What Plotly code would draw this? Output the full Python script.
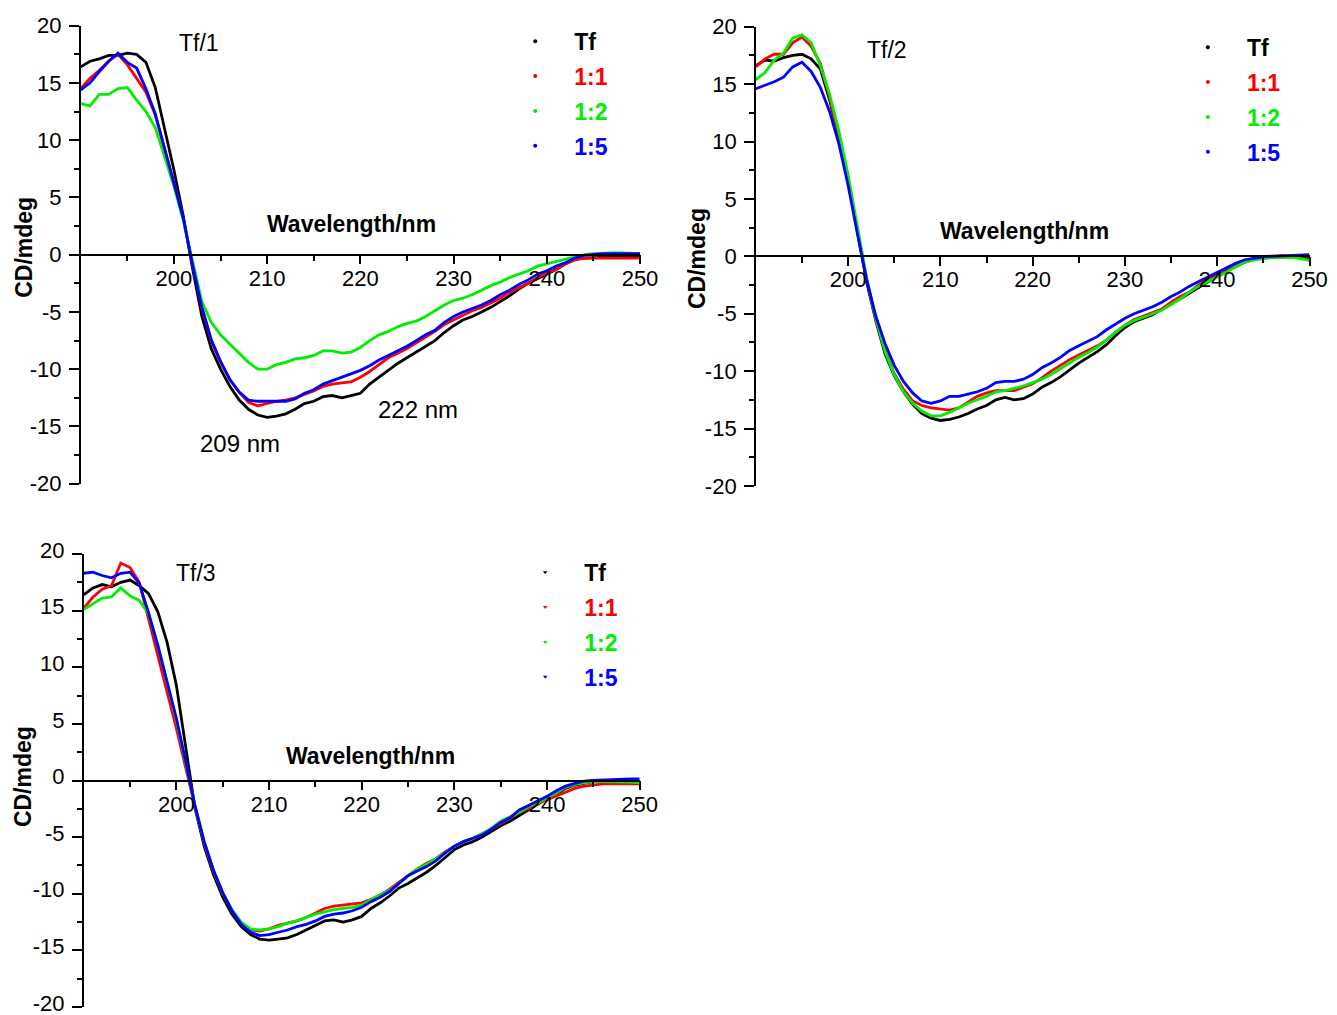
import plotly.graph_objects as go

# ---------------- data ----------------
wavelength = list(range(190, 251))

p1_tf = [16.4, 16.9, 17.1, 17.4, 17.4, 17.6, 17.5, 16.8, 14.6, 11.0,
         7.4, 3.4, -1.2, -5.4, -8.2, -10.0, -11.5, -12.7, -13.5, -14.0,
         -14.2, -14.1, -13.9, -13.5, -13.0, -12.8, -12.4, -12.3, -12.5, -12.3,
         -12.1, -11.3, -10.7, -10.1, -9.5, -9.0, -8.5, -8.0, -7.5, -6.8,
         -6.2, -5.7, -5.4, -5.0, -4.6, -4.1, -3.6, -3.0, -2.5, -2.1,
         -1.7, -1.3, -0.8, -0.4, -0.3, -0.25, -0.2, -0.2, -0.2, -0.2, -0.2]
p1_11 = [14.5, 15.4, 16.1, 16.9, 17.5, 16.6, 15.4, 14.2, 12.2, 9.3,
         6.3, 3.2, -0.9, -4.6, -7.5, -9.4, -10.9, -12.0, -12.9, -13.2,
         -13.0, -12.8, -12.7, -12.5, -12.2, -11.9, -11.5, -11.3, -11.2, -11.1,
         -10.7, -10.2, -9.6, -9.0, -8.6, -8.2, -7.7, -7.2, -6.7, -6.1,
         -5.7, -5.3, -4.9, -4.6, -4.2, -3.8, -3.3, -2.9, -2.5, -2.0,
         -1.6, -1.3, -0.8, -0.45, -0.3, -0.3, -0.3, -0.3, -0.3, -0.3, -0.3]
p1_12 = [13.2, 13.0, 14.0, 14.0, 14.5, 14.6, 13.5, 12.5, 11.1, 8.6,
         6.0, 3.0, -0.7, -4.1, -5.9, -7.0, -7.8, -8.6, -9.4, -10.0,
         -10.0, -9.6, -9.4, -9.1, -9.0, -8.8, -8.4, -8.4, -8.6, -8.5,
         -8.1, -7.5, -7.0, -6.7, -6.3, -6.0, -5.8, -5.4, -4.9, -4.4,
         -4.0, -3.8, -3.5, -3.1, -2.7, -2.4, -2.0, -1.7, -1.4, -1.0,
         -0.8, -0.6, -0.4, -0.15, 0.0, 0.1, 0.15, 0.15, 0.15, 0.1, 0.1]
p1_15 = [14.4, 15.0, 16.0, 16.9, 17.6, 16.8, 16.3, 14.5, 12.3, 9.3,
         6.3, 3.2, -0.9, -4.6, -7.4, -9.3, -10.9, -12.0, -12.7, -12.8,
         -12.8, -12.8, -12.8, -12.6, -12.1, -11.8, -11.3, -11.0, -10.7, -10.4,
         -10.1, -9.7, -9.2, -8.8, -8.4, -8.0, -7.5, -7.0, -6.6, -5.9,
         -5.4, -5.0, -4.7, -4.4, -4.0, -3.5, -3.1, -2.6, -2.2, -1.7,
         -1.4, -1.0, -0.7, -0.3, -0.05, 0.05, 0.1, 0.1, 0.1, 0.1, 0.1]

p2_tf = [16.6, 17.1, 17.0, 17.3, 17.5, 17.6, 17.2, 16.3, 13.6, 10.4,
         6.6, 2.2, -2.2, -5.6, -8.5, -10.4, -11.8, -12.9, -13.7, -14.1,
         -14.3, -14.2, -14.0, -13.7, -13.3, -13.0, -12.5, -12.3, -12.5, -12.4,
         -12.0, -11.4, -11.0, -10.5, -9.9, -9.3, -8.8, -8.3, -7.7, -6.9,
         -6.2, -5.7, -5.4, -5.1, -4.6, -4.1, -3.7, -3.2, -2.7, -2.2,
         -1.7, -1.25, -0.9, -0.5, -0.25, -0.1, -0.05, -0.05, -0.05, -0.1, -0.2]
p2_11 = [16.5, 17.2, 17.6, 17.6, 18.6, 19.1, 18.3, 16.8, 13.8, 10.4,
         6.6, 2.4, -2.0, -5.4, -8.2, -10.2, -11.6, -12.6, -13.0, -13.2,
         -13.3, -13.4, -13.2, -12.7, -12.2, -11.9, -11.7, -11.7, -11.7, -11.4,
         -11.1, -10.6, -10.0, -9.5, -9.0, -8.6, -8.2, -7.8, -7.3, -6.6,
         -6.0, -5.5, -5.2, -4.9, -4.6, -4.0, -3.5, -3.1, -2.5, -2.0,
         -1.6, -1.3, -0.8, -0.45, -0.15, 0.0, 0.05, 0.05, 0.05, 0.05, 0.0]
p2_12 = [15.4, 16.0, 17.1, 17.7, 19.0, 19.3, 18.6, 16.6, 14.1, 10.9,
         7.1, 2.8, -1.8, -5.4, -8.3, -10.3, -11.8, -12.8, -13.5, -13.9,
         -13.9, -13.6, -13.2, -12.8, -12.5, -12.2, -11.8, -11.7, -11.5, -11.3,
         -11.0, -10.7, -10.3, -9.8, -9.3, -8.8, -8.4, -7.9, -7.3, -6.6,
         -6.0, -5.6, -5.3, -5.0, -4.7, -4.2, -3.7, -3.1, -2.6, -2.2,
         -1.8, -1.4, -0.9, -0.5, -0.3, -0.2, -0.1, -0.1, -0.1, -0.2, -0.35]
p2_15 = [14.6, 14.9, 15.2, 15.6, 16.5, 16.9, 16.1, 14.7, 12.6, 9.8,
         6.2, 2.0, -2.0, -5.2, -7.6, -9.5, -10.9, -11.9, -12.6, -12.8,
         -12.6, -12.2, -12.2, -12.0, -11.8, -11.5, -11.0, -10.9, -10.9, -10.7,
         -10.3, -9.7, -9.3, -8.8, -8.2, -7.8, -7.4, -7.0, -6.4, -5.9,
         -5.4, -5.0, -4.7, -4.4, -4.0, -3.5, -3.1, -2.6, -2.2, -1.8,
         -1.35, -0.95, -0.6, -0.3, -0.15, -0.05, 0.0, 0.05, 0.1, 0.15, 0.15]

p3_tf = [16.4, 17.0, 17.3, 17.1, 17.5, 17.7, 17.2, 16.5, 14.9, 12.2,
         8.4, 3.0, -2.4, -5.8, -8.3, -10.3, -11.8, -12.9, -13.6, -14.0,
         -14.1, -14.0, -13.9, -13.6, -13.2, -12.8, -12.4, -12.3, -12.5, -12.3,
         -12.0, -11.3, -10.8, -10.2, -9.5, -9.1, -8.6, -8.1, -7.5, -6.8,
         -6.1, -5.7, -5.4, -5.0, -4.5, -4.0, -3.6, -3.1, -2.6, -2.1,
         -1.6, -1.2, -0.7, -0.4, -0.25, -0.1, -0.05, 0.0, 0.0, -0.05, -0.15]
p3_11 = [15.2, 16.2, 16.9, 17.2, 19.2, 18.8, 17.5, 14.2, 11.0, 7.8,
         4.6, 1.1, -2.3, -5.5, -8.0, -10.0, -11.5, -12.6, -13.2, -13.3,
         -13.1, -12.8, -12.6, -12.4, -12.1, -11.7, -11.3, -11.1, -11.0, -10.9,
         -10.8, -10.5, -10.1, -9.6, -9.0, -8.4, -7.8, -7.3, -6.9, -6.3,
         -5.8, -5.4, -5.1, -4.7, -4.3, -3.8, -3.3, -2.8, -2.5, -2.0,
         -1.7, -1.35, -1.0, -0.7, -0.5, -0.4, -0.3, -0.3, -0.3, -0.3, -0.3]
p3_12 = [15.1, 15.6, 16.1, 16.2, 17.0, 16.3, 15.9, 14.7, 12.0, 8.7,
         5.3, 1.6, -2.2, -5.4, -7.9, -9.9, -11.4, -12.5, -13.1, -13.2,
         -13.1, -12.9, -12.6, -12.4, -12.1, -11.8, -11.6, -11.4, -11.3, -11.2,
         -11.0, -10.5, -10.1, -9.7, -9.1, -8.4, -7.8, -7.4, -6.9, -6.4,
         -5.8, -5.4, -5.1, -4.7, -4.2, -3.6, -3.2, -2.8, -2.3, -2.0,
         -1.5, -1.1, -0.6, -0.35, -0.2, -0.1, -0.1, -0.1, -0.1, -0.15, -0.2]
p3_15 = [18.3, 18.4, 18.1, 17.9, 18.3, 18.4, 17.4, 14.8, 11.9, 8.7,
         5.5, 1.7, -2.2, -5.4, -7.9, -9.9, -11.5, -12.7, -13.4, -13.7,
         -13.6, -13.4, -13.2, -12.9, -12.7, -12.4, -12.0, -11.8, -11.7, -11.5,
         -11.2, -10.7, -10.3, -9.8, -9.1, -8.4, -8.0, -7.6, -7.1, -6.4,
         -5.8, -5.4, -5.1, -4.8, -4.3, -3.7, -3.3, -2.6, -2.2, -1.8,
         -1.4, -0.9, -0.5, -0.25, -0.05, 0.0, 0.05, 0.1, 0.15, 0.15, 0.15]

series_names = ["Tf", "1:1", "1:2", "1:5"]
series_colors = ["#000000", "#ff0000", "#00ee00", "#0000ff"]
panel_titles = ["Tf/1", "Tf/2", "Tf/3"]
panels = [[p1_tf, p1_11, p1_12, p1_15],
          [p2_tf, p2_11, p2_12, p2_15],
          [p3_tf, p3_11, p3_12, p3_15]]

x_ticks = [200, 210, 220, 230, 240, 250]
x_minor = [195, 205, 215, 225, 235, 245]
y_ticks = [-20, -15, -10, -5, 0, 5, 10, 15, 20]
y_minor = [-17.5, -12.5, -7.5, -2.5, 2.5, 7.5, 12.5, 17.5]

# ---------------- layout geometry (pixels of the figure; page body adds 8 px) ----------------
W, H = 1321, 1007
px_x = [(72.7, 632.0), (747.8, 1301.5), (75.7, 631.7)]
px_y = [(17.7, 475.7), (18.7, 477.9), (546.0, 999.0)]
xdom = [[a / W, b / W] for a, b in px_x]
ydom = [[1 - b / H, 1 - a / H] for a, b in px_y]
legend_px = [(488.2, 11.7), (1160.9, 17.7), (498.2, 542.7)]
legend_pos = [(a / W, 1 - b / H) for a, b in legend_px]
title_pos = [(202.7, 18.5), (204.2, 18.0), (202.1, 18.3)]
wl_pos = [(219.0, 2.7), (219.1, 2.2), (220.9, 2.2)]
ytitle_x = [16 / W, 689 / W, 15 / W]
ytitle_y = [0.6, -0.15, 0.3]
legend_symbols = ["circle", "circle", "triangle-down"]
label_shift = [0, 0, -4]

FONT = "Liberation Sans, Arial, sans-serif"

fig = go.Figure()
layout = dict(width=W, height=H, margin=dict(l=0, r=0, t=0, b=0, autoexpand=False),
              paper_bgcolor="white", plot_bgcolor="white",
              font=dict(family=FONT, color="black"), showlegend=True)
annotations = []

for i, data in enumerate(panels):
    k = "" if i == 0 else str(i + 1)
    xa, ya = "x" + k, "y" + k
    leg = "legend" + k
    for j, vals in enumerate(data):
        fig.add_trace(go.Scatter(x=wavelength, y=vals, mode="lines",
                                 line=dict(color=series_colors[j], width=2.8),
                                 xaxis=xa, yaxis=ya, showlegend=False,
                                 hoverinfo="skip"))
    for j in range(4):
        fig.add_trace(go.Scatter(x=[None], y=[None], mode="markers",
                                 marker=dict(color=series_colors[j], size=4,
                                             symbol=legend_symbols[i]),
                                 name='<b><span style="color:%s">%s</span></b>' % (series_colors[j], series_names[j]),
                                 xaxis=xa, yaxis=ya, legend=leg,
                                 legendgroup="g%d_%d" % (i, j), showlegend=True))
    mid = (ydom[i][0] + ydom[i][1]) / 2
    layout["xaxis" + k] = dict(domain=xdom[i], range=[190, 250], anchor="free", position=mid,
                               showline=True, linecolor="black", linewidth=1.5,
                               ticks="outside", ticklen=9, tickwidth=1.5, tickcolor="black",
                               tickvals=x_ticks, ticktext=[str(v) for v in x_ticks],
                               tickfont=dict(size=22, family=FONT, color="black"),
                               ticklabelstandoff=-5, ticklabeloverflow="allow",
                               minor=dict(tickvals=x_minor, ticks="outside", ticklen=6,
                                          tickwidth=1.5, tickcolor="black"),
                               automargin=False,
                               showgrid=False, zeroline=False, fixedrange=True)
    layout["yaxis" + k] = dict(domain=ydom[i], range=[-20, 20], anchor=xa,
                               showline=True, linecolor="black", linewidth=1.5,
                               ticks="outside", ticklen=10, tickwidth=1.5, tickcolor="black",
                               tickvals=y_ticks, ticktext=[str(v) for v in y_ticks],
                               tickfont=dict(size=22, family=FONT, color="black"),
                               ticklabelstandoff=3, ticklabelshift=label_shift[i],
                               ticklabeloverflow="allow",
                               minor=dict(tickvals=y_minor, ticks="outside", ticklen=5,
                                          tickwidth=1.5, tickcolor="black"),
                               automargin=False,
                               showgrid=False, zeroline=False, fixedrange=True)
    layout[leg] = dict(x=legend_pos[i][0], y=legend_pos[i][1], xanchor="left", yanchor="top",
                       bgcolor="rgba(0,0,0,0)", borderwidth=0, itemwidth=68,
                       traceorder="grouped", tracegroupgap=2,
                       font=dict(size=23, family=FONT, color="black"))
    annotations.append(dict(x=title_pos[i][0], y=title_pos[i][1], xref=xa, yref=ya,
                            text=panel_titles[i], showarrow=False,
                            font=dict(size=23, family=FONT, color="black")))
    annotations.append(dict(x=wl_pos[i][0], y=wl_pos[i][1], xref=xa, yref=ya,
                            text="<b>Wavelength/nm</b>", showarrow=False,
                            font=dict(size=23, family=FONT, color="black")))
    annotations.append(dict(x=ytitle_x[i], y=ytitle_y[i], xref="paper", yref=ya,
                            xanchor="center", yanchor="middle",
                            text="<b>CD/mdeg</b>", textangle=-90, showarrow=False,
                            font=dict(size=23, family=FONT, color="black")))

annotations.append(dict(x=207.1, y=-16.45, xref="x", yref="y", text="209 nm", showarrow=False,
                        font=dict(size=24, family=FONT, color="black")))
annotations.append(dict(x=226.15, y=-13.5, xref="x", yref="y", text="222 nm", showarrow=False,
                        font=dict(size=24, family=FONT, color="black")))
layout["annotations"] = annotations

fig.update_layout(**layout)
fig.write_html("out.html")
